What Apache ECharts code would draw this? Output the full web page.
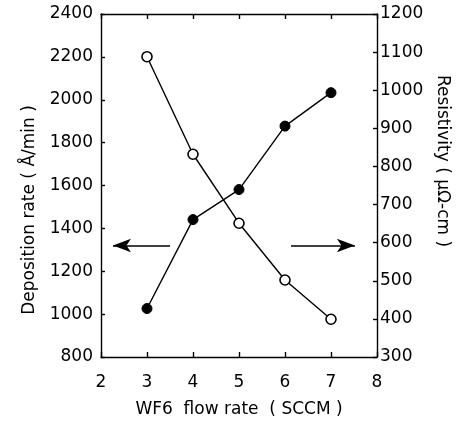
<!DOCTYPE html>
<html><head><meta charset="utf-8">
<script src="https://cdn.jsdelivr.net/npm/echarts@6/dist/echarts.min.js"></script>
<style>html,body{margin:0;padding:0;background:#fff}#c{width:459px;height:423px}</style>
</head><body><div id="c"></div>
<script>
const flowRate = [3, 4, 5, 6, 7];
const depositionRate = [1026, 1441, 1581, 1877, 2033];
const resistivity = [1088, 832, 651, 502, 399];
const xTicks = [2, 3, 4, 5, 6, 7, 8];
const leftTicks = [800, 1000, 1200, 1400, 1600, 1800, 2000, 2200, 2400];
const rightTicks = [300, 400, 500, 600, 700, 800, 900, 1000, 1100, 1200];
const xTitle = 'WF6  flow rate  ( SCCM )';
const leftTitle = 'Deposition rate ( Å/min )';
const rightTitle = 'Resistivity ( μΩ-cm )';
const arrowY = 1320;
const leftArrow = [3.5, 2.26];
const rightArrow = [6.13, 7.52];

const FONT = 'DejaVu Sans';
const chart = echarts.init(document.getElementById('c'));
const lineStyle = {color: '#000', width: 1.4};
const plain = v => String(v);
chart.setOption({
  animation: false,
  backgroundColor: '#fff',
  grid: {left: 101, right: 82, top: 14, bottom: 66},
  xAxis: [{
    type: 'value', min: xTicks[0], max: xTicks[xTicks.length-1], interval: 1,
    axisLine: {lineStyle: lineStyle},
    axisTick: {inside: true, length: 5, lineStyle: lineStyle},
    splitLine: {show: false},
    axisLabel: {color: '#000', fontFamily: FONT, fontSize: 17, margin: 17, formatter: plain},
    name: xTitle, nameLocation: 'middle', nameGap: 44,
    nameTextStyle: {color: '#000', fontFamily: FONT, fontSize: 17}
  }, {
    type: 'value', position: 'top', min: xTicks[0], max: xTicks[xTicks.length-1], interval: 1,
    axisLine: {lineStyle: lineStyle},
    axisTick: {inside: true, length: 5, lineStyle: lineStyle},
    axisLabel: {show: false}, splitLine: {show: false}
  }],
  yAxis: [{
    type: 'value', min: leftTicks[0], max: leftTicks[leftTicks.length-1], interval: 200,
    axisLine: {show: true, lineStyle: lineStyle},
    axisTick: {show: true, inside: true, length: 4, lineStyle: lineStyle},
    splitLine: {show: false},
    axisLabel: {color: '#000', fontFamily: FONT, fontSize: 17, margin: 8, formatter: plain}
  }, {
    type: 'value', position: 'right', min: rightTicks[0], max: rightTicks[rightTicks.length-1], interval: 100,
    axisLine: {show: true, lineStyle: lineStyle},
    axisTick: {show: true, inside: true, length: 4, lineStyle: lineStyle},
    splitLine: {show: false},
    axisLabel: {color: '#000', fontFamily: FONT, fontSize: 17, margin: 3, formatter: plain}
  }],
  graphic: [{
    type: 'text', x: 30, y: 210, rotation: Math.PI/2,
    style: {text: leftTitle, fill: '#000', font: '17px "DejaVu Sans"', align: 'center', verticalAlign: 'middle'}
  }, {
    type: 'text', x: 442, y: 161, rotation: -Math.PI/2,
    style: {text: rightTitle, fill: '#000', font: '17px "DejaVu Sans"', align: 'center', verticalAlign: 'middle'}
  }],
  series: [{
    name: 'Deposition rate', type: 'line', xAxisIndex: 0, yAxisIndex: 0,
    data: flowRate.map((x, i) => [x, depositionRate[i]]),
    symbol: 'circle', symbolSize: 10,
    itemStyle: {color: '#000', borderColor: '#000'},
    lineStyle: lineStyle,
    markLine: {
      silent: true, symbol: ['none', 'arrow'], symbolSize: [10, 18],
      label: {show: false},
      lineStyle: {color: '#000', width: 1.5, type: 'solid'},
      data: [
        [{coord: [leftArrow[0], arrowY]}, {coord: [leftArrow[1], arrowY]}],
        [{coord: [rightArrow[0], arrowY]}, {coord: [rightArrow[1], arrowY]}]
      ]
    }
  }, {
    name: 'Resistivity', type: 'line', xAxisIndex: 0, yAxisIndex: 1,
    data: flowRate.map((x, i) => [x, resistivity[i]]),
    symbol: 'circle', symbolSize: 10,
    itemStyle: {color: '#fff', borderColor: '#000', borderWidth: 1.6},
    lineStyle: lineStyle
  }]
});
</script></body></html>
